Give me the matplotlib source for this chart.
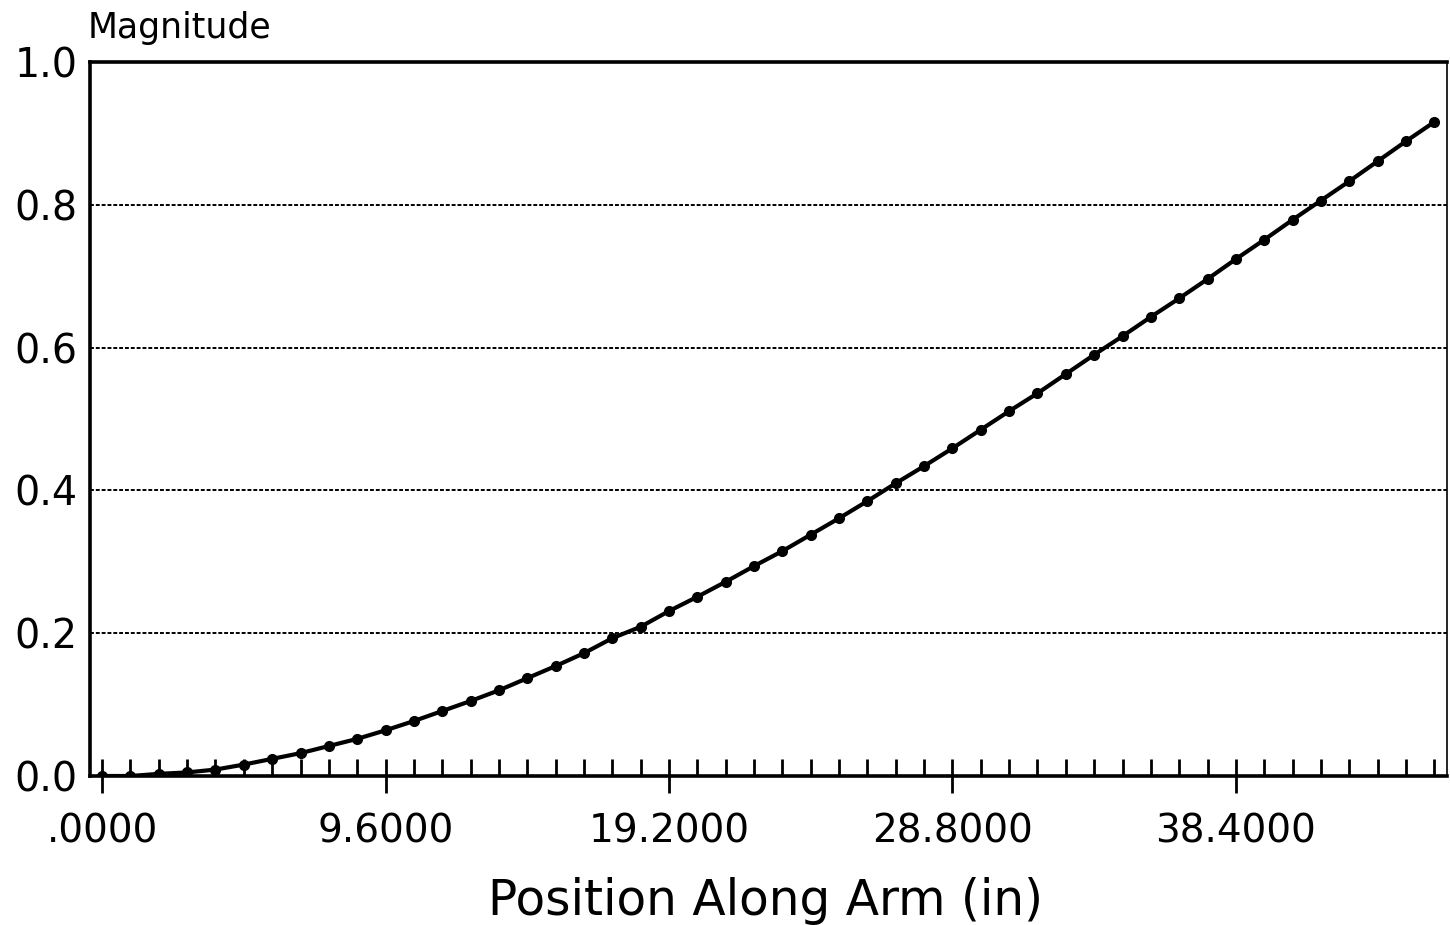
import numpy as np
import matplotlib
matplotlib.use('Agg')
from matplotlib import pyplot as plt
from matplotlib.ticker import MultipleLocator, FixedLocator

plt.rcParams['font.family'] = ['DejaVu Sans']

# Positions along arm (in), one sample every 0.96 in
step = 0.96
position = [round(step * i, 2) for i in range(48)]
magnitude = [0.000, 0.000, 0.003, 0.005, 0.009, 0.016, 0.024, 0.032, 0.042, 0.052,
             0.064, 0.077, 0.091, 0.105, 0.120, 0.137, 0.154, 0.172, 0.193, 0.209,
             0.231, 0.251, 0.272, 0.294, 0.315, 0.338, 0.361, 0.385, 0.410, 0.434,
             0.459, 0.485, 0.511, 0.536, 0.563, 0.590, 0.616, 0.643, 0.669, 0.696,
             0.724, 0.751, 0.779, 0.806, 0.833, 0.861, 0.889, 0.916]

x_ticks = [0.0, 9.6, 19.2, 28.8, 38.4]
x_labels = ['.0000', '9.6000', '19.2000', '28.8000', '38.4000']
y_ticks = [0.0, 0.2, 0.4, 0.6, 0.8, 1.0]
y_labels = ['0.0', '0.2', '0.4', '0.6', '0.8', '1.0']

fig = plt.figure(figsize=(14.5, 9.25), dpi=100)
ax = fig.add_axes([90/1450, 1-776/925, (1447-90)/1450, (776-62)/925])

ax.plot(position, magnitude, color='black', lw=3, marker='o', ms=7, zorder=3)

ax.set_xlim(-0.41, 45.55)
ax.set_ylim(0, 1.0)

# dotted grid lines
for y in y_ticks[1:-1]:
	ax.axhline(y, color='black', lw=1.4, ls=(0, (2, 1)), zorder=1)

ax.xaxis.set_major_locator(FixedLocator(x_ticks))
ax.set_xticklabels(x_labels)
ax.xaxis.set_minor_locator(MultipleLocator(step))
ax.tick_params(axis='x', which='major', direction='inout', length=25, width=2,
	pad=14, labelsize=28)
ax.tick_params(axis='x', which='minor', direction='in', length=12.5, width=2)

ax.set_yticks(y_ticks)
ax.set_yticklabels(y_labels)
ax.tick_params(axis='y', which='major', length=0, pad=9, labelsize=28.5)

for side in ['left', 'bottom', 'top']:
	ax.spines[side].set_linewidth(2.6)
ax.spines['right'].set_linewidth(1.2)
ax.spines['right'].set_linestyle((0, (3, 1)))

fig.text(88/1450, 1-38/925, 'Magnitude', fontsize=25, ha='left', va='baseline')
fig.text(765/1450, 1-915/925, 'Position Along Arm (in)', fontsize=35, ha='center', va='baseline')

fig.savefig('out.png', dpi=100)
